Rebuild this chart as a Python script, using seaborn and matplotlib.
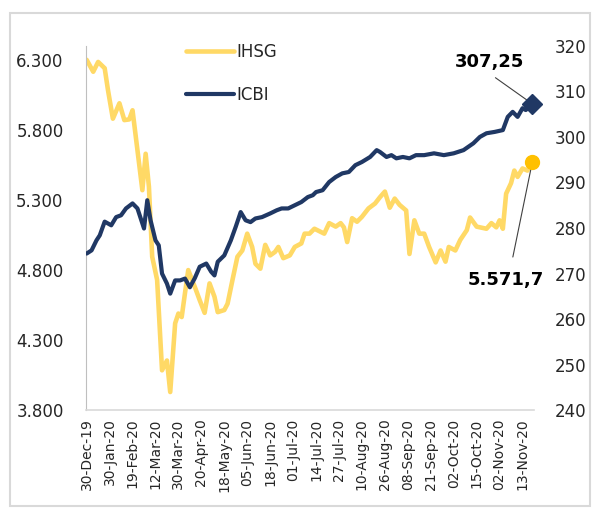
import matplotlib
matplotlib.use("Agg")
import matplotlib.pyplot as plt
import seaborn as sns
import pandas as pd
from matplotlib.patches import Rectangle

# trading-day index (0 = 30-Dec-19) and values
ihsg_day = [0, 4, 7, 11, 13, 16, 20, 23, 26, 28, 31, 34, 36, 38, 40, 43, 46, 49, 51,
            54, 56, 58, 60, 62, 66, 69, 72, 75, 78, 80, 84, 86, 89, 92, 95, 98, 101,
            103, 106, 109, 112, 115, 117, 120, 124, 127, 131, 133, 136, 139, 145, 148,
            152, 155, 157, 159, 162, 165, 168, 172, 176, 179, 182, 185, 188, 191, 195,
            197, 200, 203, 206, 209, 213, 216, 219, 221, 225, 228, 232, 234, 238, 244,
            247, 250, 252, 254, 256, 259, 261, 263, 266, 269, 272]
ihsg = [6300, 6215, 6285, 6240, 6085, 5880, 5990, 5870, 5875, 5940, 5655, 5370, 5630,
        5395, 4895, 4730, 4085, 4155, 3930, 4420, 4490, 4465, 4635, 4800, 4680, 4585,
        4495, 4705, 4610, 4500, 4515, 4560, 4730, 4895, 4940, 5060, 4965, 4845, 4810,
        4980, 4905, 4930, 4965, 4885, 4905, 4965, 4990, 5060, 5060, 5095, 5060, 5135,
        5110, 5135, 5105, 5000, 5170, 5145, 5180, 5240, 5275, 5320, 5360, 5245, 5310,
        5265, 5225, 4915, 5155, 5060, 5060, 4965, 4855, 4940, 4860, 4965, 4940, 5015,
        5085, 5175, 5110, 5095, 5135, 5105, 5155, 5095, 5345, 5420, 5510, 5465, 5525,
        5510, 5571.7]

icbi_day = [0, 3, 6, 8, 11, 15, 18, 21, 24, 28, 31, 35, 37, 39, 42, 44, 46, 49, 51, 54,
            57, 60, 63, 66, 69, 73, 76, 78, 80, 84, 88, 91, 94, 97, 100, 103, 107, 112,
            116, 119, 123, 127, 131, 135, 138, 140, 144, 148, 152, 156, 160, 164, 168,
            173, 177, 179, 183, 186, 189, 193, 197, 201, 206, 212, 218, 224, 230, 236,
            240, 244, 249, 254, 257, 260, 263, 266, 268, 272]
icbi = [274.4, 275.1, 277.3, 278.4, 281.4, 280.6, 282.4, 282.8, 284.3, 285.4, 284.3,
        279.9, 286.1, 281.7, 277.3, 276.2, 270.0, 267.8, 265.6, 268.5, 268.5, 268.9,
        267.0, 269.0, 271.5, 272.2, 270.4, 269.6, 272.6, 274.0, 277.3, 280.3, 283.5,
        281.7, 281.3, 282.1, 282.4, 283.2, 283.9, 284.3, 284.3, 285.0, 285.7, 286.8,
        287.2, 287.9, 288.3, 290.1, 291.2, 292.0, 292.3, 293.8, 294.5, 295.6, 297.1,
        296.7, 295.6, 296.0, 295.3, 295.6, 295.3, 296.0, 296.0, 296.4, 296.0, 296.4,
        297.1, 298.6, 300.0, 300.8, 301.1, 301.5, 304.4, 305.5, 304.4, 306.3, 305.9,
        307.25]

tick_labels = ["30-Dec-19", "30-Jan-20", "19-Feb-20", "12-Mar-20", "30-Mar-20",
               "20-Apr-20", "18-May-20", "05-Jun-20", "18-Jun-20", "01-Jul-20",
               "14-Jul-20", "27-Jul-20", "10-Aug-20", "26-Aug-20", "08-Sep-20",
               "21-Sep-20", "02-Oct-20", "15-Oct-20", "02-Nov-20", "13-Nov-20"]
tick_days = [i * 14 for i in range(len(tick_labels))]

left_ticks = [3800, 4300, 4800, 5300, 5800, 6300]
left_labels = ["3.800", "4.300", "4.800", "5.300", "5.800", "6.300"]
right_ticks = [240, 250, 260, 270, 280, 290, 300, 310, 320]

ihsg_df = pd.DataFrame({"day": ihsg_day, "value": ihsg})
icbi_df = pd.DataFrame({"day": icbi_day, "value": icbi})

YELLOW = "#FFD966"
GOLD = "#FFC000"
NAVY = "#203864"
TXT = "#262626"

sns.set_style("white")
plt.rcParams["font.family"] = ["DejaVu Sans"]

fig = plt.figure(figsize=(5.92, 5.09), dpi=100)
ax = fig.add_axes([0.145, 0.194, 0.757, 0.716])
ax2 = ax.twinx()

sns.lineplot(data=ihsg_df, x="day", y="value", ax=ax, color=YELLOW, lw=3.3, label="IHSG")
sns.lineplot(data=icbi_df, x="day", y="value", ax=ax2, color=NAVY, lw=3.0, label="ICBI")

# end markers
ax.plot(ihsg_day[-1], ihsg[-1], "o", color=GOLD, ms=10, zorder=5, clip_on=False)
ax2.plot(icbi_day[-1], icbi[-1], "D", color=NAVY, ms=10.5, zorder=5, clip_on=False)

ax.set_xlim(-0.5, 273)
ax.set_ylim(3800, 6400)
ax2.set_ylim(240, 320)

ax.set_xticks(tick_days)
ax.set_xticklabels(tick_labels, rotation=90, fontsize=10, color=TXT)
ax.set_yticks(left_ticks)
ax.set_yticklabels(left_labels, fontsize=12, color=TXT)
ax2.set_yticks(right_ticks)
ax2.set_yticklabels([str(t) for t in right_ticks], fontsize=12, color=TXT)
ax.tick_params(axis="x", length=0, pad=6)
ax.tick_params(axis="y", length=0, pad=16)
ax2.tick_params(axis="y", length=0, pad=15)
ax.set_xlabel("")
ax.set_ylabel("")
ax2.set_ylabel("")

for s in ["top", "right"]:
    ax.spines[s].set_visible(False)
for s in ax2.spines.values():
    s.set_visible(False)
ax.spines["left"].set_color("#BFBFBF")
ax.spines["bottom"].set_color("#D9D9D9")
ax.spines["bottom"].set_linewidth(1.2)

# legend
h1, l1 = ax.get_legend_handles_labels()
h2, l2 = ax2.get_legend_handles_labels()
if ax2.get_legend():
    ax2.get_legend().remove()
ax.get_legend().remove()
leg = ax2.legend(h1 + h2, l1 + l2, loc="upper left", bbox_to_anchor=(0.19, 1.05),
                 frameon=False, fontsize=12, handlelength=2.9, handletextpad=0.15,
                 labelspacing=1.5)
for t in leg.get_texts():
    t.set_color(TXT)

# value callouts
ax2.annotate("307,25", xy=(icbi_day[-1], icbi[-1]), xytext=(246, 316.4),
             fontsize=13, fontweight="bold", color="black", ha="center", va="center",
             arrowprops=dict(arrowstyle="-", color="#404040", lw=0.8,
                             relpos=(0.45, 0.0), shrinkA=4, shrinkB=5))
ax.annotate("5.571,7", xy=(ihsg_day[-1], ihsg[-1]), xytext=(256, 4728),
            fontsize=13, fontweight="bold", color="black", ha="center", va="center",
            arrowprops=dict(arrowstyle="-", color="#404040", lw=0.8,
                            relpos=(0.55, 1.0), shrinkA=8, shrinkB=4))

# chart border
fig.patches.append(Rectangle((10 / 592, 3 / 509), 580 / 592, 493 / 509,
                             transform=fig.transFigure, fill=False,
                             edgecolor="#D9D9D9", lw=1.5))

fig.savefig("out.png", dpi=100)
